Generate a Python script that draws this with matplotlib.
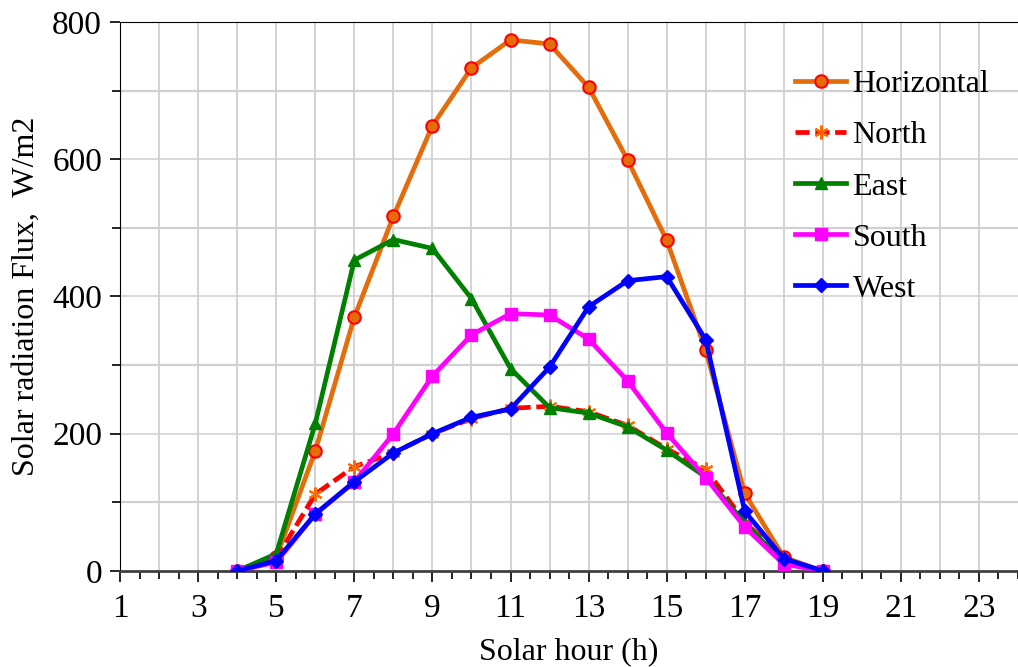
import numpy as np
import matplotlib.pyplot as plt
from matplotlib.ticker import MultipleLocator

hours = [4, 5, 6, 7, 8, 9, 10, 11, 12, 13, 14, 15, 16, 17, 18, 19]
horizontal = [0, 20, 175, 370, 517, 649, 733, 774, 768, 705, 599, 482, 322, 113, 20, 0]
north = [0, 18, 112, 152, 172, 200, 222, 237, 240, 232, 212, 178, 148, 72, 15, 0]
east = [0, 25, 215, 453, 483, 470, 397, 295, 238, 230, 210, 176, 137, 70, 12, 0]
south = [0, 13, 83, 130, 200, 284, 344, 375, 373, 338, 277, 201, 136, 64, 10, 0]
west = [0, 15, 83, 130, 172, 200, 224, 236, 297, 385, 423, 429, 337, 87, 18, 0]

plt.rcParams['font.family'] = ['Liberation Serif', 'DejaVu Serif']

fig = plt.figure(figsize=(10.18, 6.67), dpi=100)
ax = fig.add_axes([0.118, 0.144, 0.882, 0.823])

lw = 3.4
ax.plot(hours, horizontal, color='#E46C0A', lw=lw, marker='o', ms=9,
        mfc='#E46C0A', mec='#FF0000', mew=1.5, label='Horizontal', zorder=3)
ax.plot(hours, north, color='#FF0000', lw=lw, ls=(0, (3, 1.2)), marker=(6, 2, 0), ms=10,
        mec='#FF6A00', mew=1.5, label='North', zorder=3)
ax.plot(hours, east, color='#008000', lw=lw, marker='^', ms=9,
        mfc='#008000', mec='#008000', label='East', zorder=3)
ax.plot(hours, south, color='#FF00FF', lw=lw, marker='s', ms=9,
        mfc='#FF00FF', mec='#FF00FF', label='South', zorder=3)
ax.plot(hours, west, color='#0000FF', lw=lw, marker='D', ms=7,
        mfc='#0000FF', mec='#0000FF', label='West', zorder=3)

ax.set_xlim(1, 24)
ax.set_ylim(0, 800)
ax.set_xticks(np.arange(1, 24, 2))
ax.xaxis.set_minor_locator(MultipleLocator(0.5))
ax.yaxis.set_major_locator(MultipleLocator(200))
ax.yaxis.set_minor_locator(MultipleLocator(100))

for x in range(2, 24):
    ax.axvline(x, color='#C8C8C8', lw=1.1, zorder=1)
for y in range(100, 800, 100):
    ax.axhline(y, color='#D0D0D0', lw=1.6 if y % 200 else 1.1, zorder=1)

ax.spines['right'].set_visible(False)
ax.spines['left'].set_color('black')
ax.spines['top'].set_color('black')
ax.spines['bottom'].set_color('#404040')
ax.spines['bottom'].set_linewidth(2)

ax.tick_params(axis='x', which='major', direction='out', length=8, width=1.2,
               labelsize=24, pad=8)
ax.tick_params(axis='x', which='minor', direction='out', length=6, width=1.2)
ax.tick_params(axis='y', which='major', direction='out', length=7, width=1.2,
               labelsize=24, pad=6)
ax.tick_params(axis='y', which='minor', direction='out', length=6, width=1.2)

ax.set_xlabel('Solar hour (h)', fontsize=23, labelpad=10)
ax.set_ylabel('Solar radiation Flux,  W/m2', fontsize=23, labelpad=8)

ax.legend(loc='upper right', bbox_to_anchor=(1.0, 0.965), frameon=False, fontsize=23,
          handlelength=1.6, handletextpad=0.2, labelspacing=0.68)

fig.savefig('out.png', dpi=100)
